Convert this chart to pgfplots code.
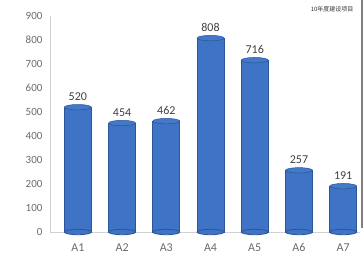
\documentclass[border=0pt]{standalone}
\usepackage{pgfplots}
\pgfplotsset{compat=1.18}
\usepackage{fontspec}
\setmainfont{Carlito}
\newfontfamily\cjk{Noto Sans CJK SC}
\definecolor{barblue}{HTML}{3E73C6}
\definecolor{bardark}{HTML}{2A5599}
\definecolor{bartop}{HTML}{4479C9}
\definecolor{ticktext}{HTML}{6A6A6A}
\begin{document}
\begin{tikzpicture}[x=1pt,y=1pt]
\path[use as bounding box] (0,0) rectangle (364,268);
\begin{axis}[
  at={(50pt,36pt)}, anchor=south west,
  scale only axis, width=310pt, height=216pt,
  xmin=-0.63, xmax=6.38, ymin=0, ymax=900,
  axis x line*=bottom, axis y line*=left,
  axis line style={draw=black!18, line width=0.8pt},
  xtick={0,...,6}, xticklabels={A1,A2,A3,A4,A5,A6,A7},
  ytick={0,100,...,900},
  major tick length=0pt,
  /pgf/number format/assume math mode=true,
  tick label style={font=\fontsize{11}{12}\selectfont, text=ticktext},
  xticklabel style={font=\fontsize{12}{13}\selectfont, yshift=-8pt},
  yticklabel style={xshift=-4pt},
  clip=false,
]
\addplot[ybar, bar width=27pt, fill=barblue, draw=bardark, line width=0.8pt]
  coordinates {(0,520) (1,454) (2,462) (3,808) (4,716) (5,257) (6,191)};
\addplot[only marks, mark=*, mark size=13.5pt, mark options={yscale=0.2, fill=barblue, draw=bardark, line width=0.8pt}]
  coordinates {(0,0) (1,0) (2,0) (3,0) (4,0) (5,0) (6,0)};
\addplot[ybar, bar width=25.4pt, fill=barblue, draw=none]
  coordinates {(0,520) (1,454) (2,462) (3,808) (4,716) (5,257) (6,191)};
\addplot[only marks, mark=*, mark size=13.5pt, mark options={yscale=0.2, fill=bartop, draw=bardark, line width=0.5pt},
  nodes near coords, point meta=explicit symbolic,
  every node near coord/.append style={font=\fontsize{12}{13}\selectfont, text=black!75, yshift=3pt}]
  coordinates {(0,520)[520] (1,454)[454] (2,462)[462] (3,808)[808] (4,716)[716] (5,257)[257] (6,191)[191]};
\end{axis}
\node[anchor=east, font=\cjk\fontsize{6}{7}\selectfont, text=black!80] at (357,259) {10年度建设项目};
\draw[black!50, line width=1.5pt] (362,268) -- (362,40);
\end{tikzpicture}
\end{document}
